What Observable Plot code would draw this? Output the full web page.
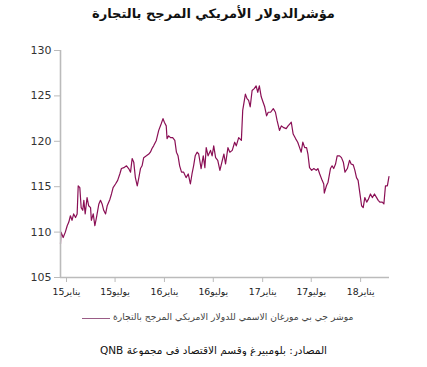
<!DOCTYPE html>
<html><head><meta charset="utf-8">
<script src="https://cdn.jsdelivr.net/npm/d3@7"></script>
<script src="https://cdn.jsdelivr.net/npm/@observablehq/plot@0.6"></script>
<style>
body{margin:0;background:#fff;font-family:"DejaVu Sans",sans-serif;width:427px;}
#title{height:34px;text-align:center;font-size:13px;font-weight:bold;color:#111;line-height:28px;direction:rtl;}
#legend{height:26px;position:relative;font-size:9.2px;color:#444;}
#caption{text-align:center;font-size:10.5px;color:#111;direction:rtl;margin-top:12px;}
</style></head>
<body>
<div id="title">مؤشرالدولار الأمريكي المرجح بالتجارة</div>
<div id="chart"></div>
<div id="legend"><span style="position:absolute;left:82px;top:12px;width:28px;border-top:1.5px solid #9a5c86;"></span><span style="position:absolute;left:113px;top:5px;direction:rtl;">موشر جي بي مورغان الاسمي للدولار الامريكي المرجح بالتجارة</span></div>
<div id="caption">المصادر: بلومبيرغ وقسم الاقتصاد في مجموعة QNB</div>
<script>
const dates = ["2015-01-01","2015-01-03","2015-01-11","2015-01-19","2015-01-26","2015-02-01","2015-02-07","2015-02-13","2015-02-19","2015-02-26","2015-03-04","2015-03-08","2015-03-14","2015-03-19","2015-03-25","2015-03-29","2015-04-03","2015-04-10","2015-04-16","2015-04-23","2015-04-26","2015-05-03","2015-05-09","2015-05-15","2015-05-24","2015-05-30","2015-06-05","2015-06-11","2015-06-18","2015-06-24","2015-07-04","2015-07-10","2015-07-16","2015-07-25","2015-08-02","2015-08-10","2015-08-16","2015-08-25","2015-09-04","2015-09-12","2015-09-19","2015-09-25","2015-10-01","2015-10-07","2015-10-14","2015-10-20","2015-10-26","2015-11-01","2015-11-07","2015-11-17","2015-11-26","2015-12-02","2015-12-08","2015-12-14","2015-12-24","2016-01-02","2016-01-11","2016-01-18","2016-01-23","2016-01-30","2016-02-02","2016-02-08","2016-02-15","2016-02-23","2016-03-02","2016-03-08","2016-03-14","2016-03-20","2016-03-27","2016-04-04","2016-04-13","2016-04-21","2016-04-29","2016-05-05","2016-05-11","2016-05-17","2016-05-24","2016-05-30","2016-06-08","2016-06-16","2016-06-22","2016-06-27","2016-07-04","2016-07-13","2016-07-19","2016-07-25","2016-08-01","2016-08-09","2016-08-17","2016-08-26","2016-09-01","2016-09-07","2016-09-16","2016-09-23","2016-10-02","2016-10-11","2016-10-17","2016-10-26","2016-11-05","2016-11-10","2016-11-20","2016-11-26","2016-12-02","2016-12-08","2016-12-15","2016-12-23","2016-12-30","2017-01-05","2017-01-11","2017-01-18","2017-01-25","2017-01-31","2017-02-07","2017-02-13","2017-02-22","2017-03-04","2017-03-12","2017-03-18","2017-03-27","2017-04-03","2017-04-12","2017-04-21","2017-04-28","2017-05-04","2017-05-10","2017-05-17","2017-05-26","2017-06-03","2017-06-10","2017-06-16","2017-06-22","2017-06-29","2017-07-06","2017-07-11","2017-07-17","2017-07-25","2017-08-02","2017-08-11","2017-08-17","2017-08-24","2017-09-02","2017-09-08","2017-09-10","2017-09-18","2017-09-24","2017-10-03","2017-10-09","2017-10-15","2017-10-22","2017-10-28","2017-11-06","2017-11-13","2017-11-20","2017-11-26","2017-12-05","2017-12-13","2017-12-19","2017-12-27","2018-01-02","2018-01-08","2018-01-14","2018-01-20","2018-01-27","2018-02-02","2018-02-08","2018-02-15","2018-02-21","2018-03-01","2018-03-08","2018-03-16","2018-03-24","2018-03-30","2018-04-05","2018-04-14","2018-04-20","2018-04-26","2018-05-03","2018-05-09"];
const values = [108.7,110.0,109.4,110.0,110.7,111.1,111.8,111.3,112.0,111.6,112.0,115.1,114.9,112.7,112.4,113.5,112.0,113.8,112.9,112.7,111.3,112.0,110.7,111.6,113.1,113.5,113.1,112.4,112.0,112.9,113.6,114.2,114.9,115.3,115.7,116.4,117.0,117.1,117.3,117.0,116.6,118.1,117.7,116.0,115.1,116.0,117.0,117.3,118.2,118.4,118.6,118.8,119.2,119.5,120.1,121.2,121.9,122.5,122.1,121.7,120.3,120.6,120.4,120.4,120.1,118.8,118.4,117.3,116.6,116.6,116.0,116.4,115.3,116.4,117.3,118.4,118.8,118.6,117.0,118.4,117.1,119.3,118.4,119.0,118.4,119.5,118.2,117.9,116.8,117.9,118.6,117.5,119.3,118.8,119.0,119.9,119.5,120.4,120.1,123.4,125.2,124.7,124.5,123.8,125.6,125.8,126.1,125.4,126.1,124.9,124.3,123.8,122.8,123.2,123.2,123.6,123.2,122.3,121.2,121.7,121.5,121.4,121.7,121.9,122.1,120.8,120.3,119.9,119.3,118.8,119.9,119.3,119.3,118.6,117.1,116.8,117.0,116.8,117.0,116.4,115.7,115.3,114.3,115.1,115.5,117.0,117.3,117.0,117.5,118.4,118.4,118.2,117.7,116.6,117.0,117.9,117.5,117.4,116.8,116.0,115.7,114.4,112.9,112.7,113.8,113.3,113.6,114.2,113.8,114.2,113.8,113.5,113.3,113.3,113.1,115.1,115.1,116.1];
const tickDates = ["2015-01-01","2015-07-01","2016-01-01","2016-07-01","2017-01-01","2017-07-01","2018-01-01"];
const tickLabels = ["يناير15","يوليو15","يناير16","يوليو16","يناير17","يوليو17","يناير18"];
const yTicks = [105,110,115,120,125,130];

const data = dates.map((d,i)=>({date:new Date(d), value:values[i]}));
const tdates = tickDates.map(d=>new Date(d));
const labelOf = new Map(tdates.map((d,i)=>[+d, tickLabels[i]]));

const chart = Plot.plot({
  width:427, height:272,
  marginLeft:60, marginRight:38, marginTop:16, marginBottom:29,
  style:{fontFamily:"DejaVu Sans, sans-serif", fontSize:"10.5px", color:"#222", background:"#fff"},
  x:{type:"time", domain:[new Date("2015-01-01"), new Date("2018-05-11")]},
  y:{domain:[105,130]},
  marks:[
    Plot.line(data,{x:"date",y:"value",stroke:"#8a0f55",strokeWidth:1.2}),
    Plot.axisY({ticks:yTicks, tickSize:6, tickPadding:3, label:null, stroke:"#bbb", fontSize:11, color:"#333"}),
    Plot.ruleX([new Date("2015-01-01")],{stroke:"#bbb",strokeWidth:1.6}),
    Plot.ruleY([105],{stroke:"#bbb",strokeWidth:1.6}),
    Plot.axisX({ticks:tdates, tickSize:5, tickPadding:6, label:null, stroke:"#bbb",
      tickFormat:d=>labelOf.get(+d), dx:6, fontSize:9.3, fill:"#222"})
  ]
});
document.getElementById("chart").appendChild(chart);
</script>
</body></html>
